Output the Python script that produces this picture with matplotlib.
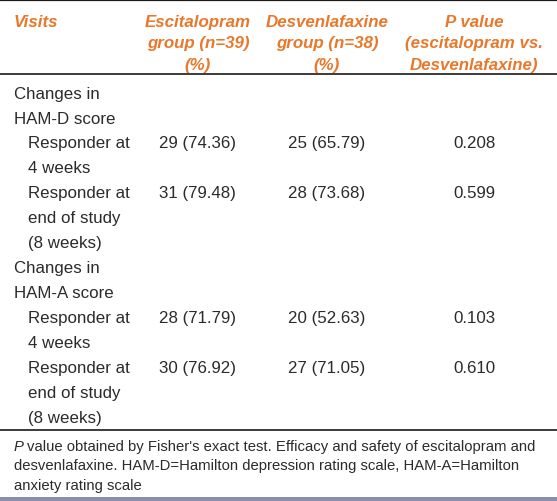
import matplotlib
matplotlib.use("Agg")
import matplotlib.pyplot as plt

# ---- data ----
header_visits = "Visits"
header_esc = ["Escitalopram", "group (n=39)", "(%)"]
header_des = ["Desvenlafaxine", "group (n=38)", "(%)"]
header_p = ["P value", "(escitalopram vs.", "Desvenlafaxine)"]

section_labels = [["Changes in", "HAM-D score"], ["Changes in", "HAM-A score"]]
responder_labels = [["Responder at", "4 weeks"], ["Responder at", "end of study", "(8 weeks)"]]

esc_n = [29, 31, 28, 30]
esc_pct = [74.36, 79.48, 71.79, 76.92]
des_n = [25, 28, 20, 27]
des_pct = [65.79, 73.68, 52.63, 71.05]
p_values = ["0.208", "0.599", "0.103", "0.610"]

footnote_lines = [
    "value obtained by Fisher's exact test. Efficacy and safety of escitalopram and",
    "desvenlafaxine. HAM-D=Hamilton depression rating scale, HAM-A=Hamilton",
    "anxiety rating scale",
]

# ---- drawing ----
W, H = 557, 502
fig = plt.figure(figsize=(W / 100, H / 100), dpi=100)
ax = fig.add_axes([0, 0, 1, 1])
ax.set_xlim(0, W)
ax.set_ylim(H, 0)
ax.axis("off")

FONT = "Liberation Sans"
ORANGE = "#E8782B"
TXT = "#2b2b2b"
FS = 12.2

# header
hx_esc, hx_des, hx_p = 198, 327, 474
hy = [26.7, 48.3, 70.0]
ax.text(14, hy[0], header_visits, fontsize=FS, fontweight="bold", fontstyle="italic",
        color=ORANGE, family=FONT, va="baseline", ha="left")
for i in range(3):
    ax.text(hx_esc, hy[i], header_esc[i], fontsize=FS, fontweight="bold", fontstyle="italic",
            color=ORANGE, family=FONT, va="baseline", ha="center")
    ax.text(hx_des, hy[i], header_des[i], fontsize=FS, fontweight="bold", fontstyle="italic",
            color=ORANGE, family=FONT, va="baseline", ha="center")
    ax.text(hx_p, hy[i], header_p[i], fontsize=FS, fontweight="bold", fontstyle="italic",
            color=ORANGE, family=FONT, va="baseline", ha="center")

# rules
ax.plot([0, W], [1, 1], color="#1a1a1a", lw=1.6, solid_capstyle="butt")
ax.plot([0, W], [75, 75], color="#1a1a1a", lw=1.2, solid_capstyle="butt")
ax.plot([0, W], [431, 431], color="#1a1a1a", lw=1.2, solid_capstyle="butt")
ax.add_patch(plt.Rectangle((0, 498.3), W, 4, color="#8A8DAE", lw=0))

# body
base0 = 98.5
step = 25.0
line = 0
k = 0
for s in range(2):
    for t in section_labels[s]:
        ax.text(14, base0 + step * line, t, fontsize=FS, color=TXT, family=FONT,
                va="baseline", ha="left")
        line += 1
    for r in range(2):
        y0 = base0 + step * line
        for t in responder_labels[r]:
            ax.text(28, base0 + step * line, t, fontsize=FS, color=TXT, family=FONT,
                    va="baseline", ha="left")
            line += 1
        ax.text(159, y0, f"{esc_n[k]} ({esc_pct[k]:.2f})", fontsize=FS, color=TXT,
                family=FONT, va="baseline", ha="left")
        ax.text(288, y0, f"{des_n[k]} ({des_pct[k]:.2f})", fontsize=FS, color=TXT,
                family=FONT, va="baseline", ha="left")
        ax.text(hx_p, y0, p_values[k], fontsize=FS, color=TXT,
                family=FONT, va="baseline", ha="center")
        k += 1

# footnote
fy = [450.7, 470.5, 490.0]
FFS = 10.75
t0 = ax.text(14, fy[0], "P", fontsize=FFS, fontstyle="italic", color=TXT, family=FONT,
             va="baseline", ha="left")
fig.canvas.draw()
bb = t0.get_window_extent()
x_after = bb.x1 + 3.0
ax.text(x_after, fy[0], footnote_lines[0], fontsize=FFS, color=TXT, family=FONT,
        va="baseline", ha="left")
for i in (1, 2):
    ax.text(14, fy[i], footnote_lines[i], fontsize=FFS, color=TXT, family=FONT,
            va="baseline", ha="left")

fig.savefig("out.png", dpi=100, facecolor="white")
